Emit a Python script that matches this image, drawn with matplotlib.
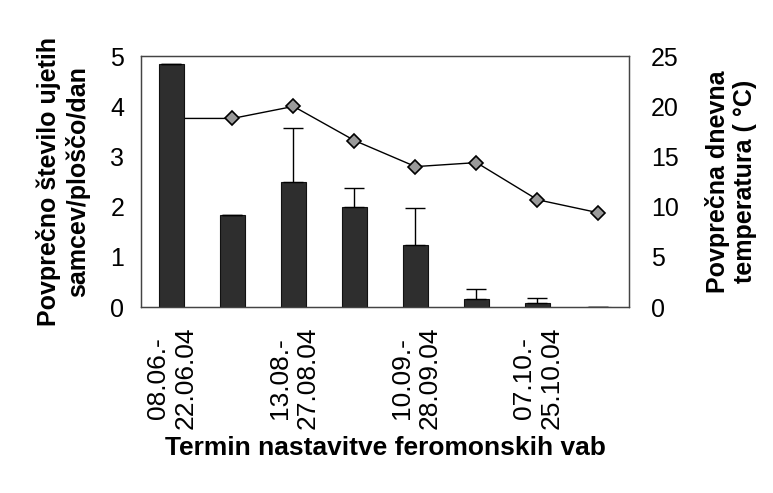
import matplotlib
matplotlib.use("Agg")
import matplotlib.pyplot as plt
import numpy as np

plt.rcParams['font.family'] = ['Liberation Sans', 'DejaVu Sans']

tick_labels = ["08.06.-\n22.06.04", "", "13.08.-\n27.08.04", "",
               "10.09.-\n28.09.04", "", "07.10.-\n25.10.04", ""]
males = [4.85, 1.83, 2.50, 2.00, 1.23, 0.17, 0.09, 0.0]
males_err = [0.0, 0.0, 1.06, 0.37, 0.74, 0.19, 0.10, 0.0]
temperature = [18.8, 18.8, 20.0, 16.6, 14.0, 14.4, 10.7, 9.4]

x = np.arange(len(males))

fig = plt.figure(figsize=(7.73, 4.93), dpi=100)
ax = fig.add_axes([0.1824, 0.377, 0.6313, 0.509])
ax2 = ax.twinx()

# temperature line (drawn below the bars)
ax2.plot(x, temperature, color='black', lw=1.0, marker='D', markersize=7,
         markerfacecolor='#9a9a9a', markeredgecolor='black', markeredgewidth=1.2)
ax2.set_ylim(0, 25)
ax2.set_yticks([0, 5, 10, 15, 20, 25])

ax.set_zorder(ax2.get_zorder() + 1)
ax.patch.set_visible(False)

ax.bar(x, males, width=0.4, color='#2e2e2e', edgecolor='#111111', linewidth=0.8)
ax.errorbar(x, males, yerr=[np.zeros(len(males)), males_err], fmt='none',
            ecolor='black', elinewidth=1.0, capsize=7, capthick=1.0)
ax.set_ylim(0, 5)
ax.set_xlim(-0.5, len(males) - 0.5)
ax.set_yticks([0, 1, 2, 3, 4, 5])
ax.set_xticks(x)
ax.set_xticklabels(tick_labels, rotation=90, fontsize=19)

ax.tick_params(axis='y', length=0, pad=12, labelsize=18)
ax.tick_params(axis='x', length=0, pad=14)
ax2.tick_params(axis='y', length=0, pad=16, labelsize=18)

for a in (ax, ax2):
    for s in a.spines.values():
        s.set_color('#444444')
        s.set_linewidth(0.9)

ax.set_ylabel("Povprečno število ujetih\nsamcev/ploščo/dan", fontsize=18,
              fontweight='bold')
ax.yaxis.set_label_coords(-0.104, 0.5)
ax2.set_ylabel("Povprečna dnevna\ntemperatura ( °C)", fontsize=18,
               fontweight='bold')
ax2.yaxis.set_label_coords(1.155, 0.5)
ax.set_xlabel("Termin nastavitve feromonskih vab", fontsize=19,
              fontweight='bold', labelpad=5)

fig.savefig("out.png", dpi=100)
